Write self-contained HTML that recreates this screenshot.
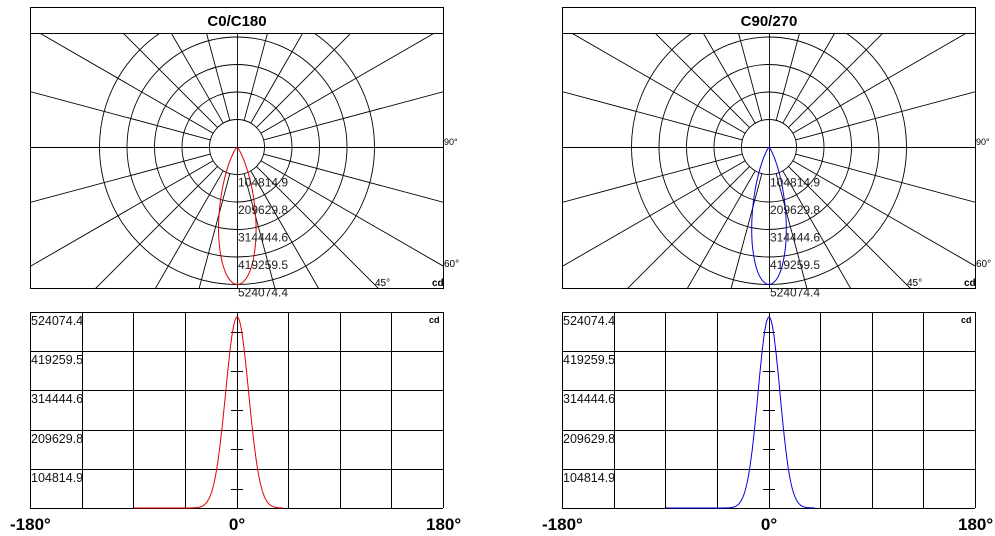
<!DOCTYPE html>
<html><head><meta charset="utf-8"><style>
html,body{margin:0;padding:0;background:#fff;width:995px;height:536px;overflow:hidden}
svg{display:block}
text{font-family:"Liberation Sans",Arial,sans-serif}
</style></head><body>
<svg id="s" width="995" height="536" xmlns="http://www.w3.org/2000/svg"></svg>
<script>
var s=document.getElementById('s'),out='';
function panel(ox,title,color,sig,sig2,skew){
  var cx=ox+207,cy=147,L=ox,R=ox+413,T=33,B=288;
  out+='<rect x="'+(L+.5)+'" y="7.5" width="413" height="'+(B-7)+'" fill="#fff" stroke="#000"/>';
  out+='<line x1="'+L+'" y1="33.5" x2="'+R+'" y2="33.5" stroke="#000"/>';
  out+='<text x="'+cx+'" y="26" font-size="15" font-weight="bold" text-anchor="middle">'+title+'</text>';
  out+='<defs><clipPath id="c'+ox+'"><rect x="'+L+'" y="'+T+'" width="413" height="'+(B-T)+'"/></clipPath></defs><g clip-path="url(#c'+ox+')" stroke="#000" fill="none" stroke-width="0.9">';
  for(var k=1;k<=5;k++)out+='<circle cx="'+cx+'" cy="'+cy+'" r="'+(27.5*k)+'"/>';
  for(var a=0;a<360;a+=15){
    if(a%90==0)continue;
    var r=a*Math.PI/180;
    out+='<line x1="'+(cx+27.5*Math.cos(r))+'" y1="'+(cy+27.5*Math.sin(r))+'" x2="'+(cx+600*Math.cos(r))+'" y2="'+(cy+600*Math.sin(r))+'"/>';
  }
  out+='<line x1="'+L+'" y1="'+(cy+.5)+'" x2="'+R+'" y2="'+(cy+.5)+'"/><line x1="'+(cx+.5)+'" y1="'+T+'" x2="'+(cx+.5)+'" y2="'+B+'"/></g>';
  var p='';
  for(var t=-40;t<=40;t+=1){
    var I=Math.exp(-t*t/(2*sig*sig))*(1+skew*t/40);
    if(I>1)I=1;
    var rr=I*137.5,rad=t*Math.PI/180;
    p+=(p?'L':'M')+(cx+rr*Math.sin(rad)).toFixed(1)+' '+(cy+rr*Math.cos(rad)).toFixed(1);
  }
  out+='<path d="'+p+'Z" fill="none" stroke="'+color+'" stroke-width="1"/>';
  var labs=['104814.9','209629.8','314444.6','419259.5','524074.4'];
  for(var k=0;k<5;k++)out+='<text x="'+(cx+1)+'" y="'+(cy+27.5*(k+1)+12)+'" font-size="12" fill="#222">'+labs[k]+'</text>';
  out+='<text x="'+(R+1)+'" y="145" font-size="9">90°</text><text x="'+(R+1)+'" y="267" font-size="10">60°</text><text x="'+(ox+345)+'" y="286" font-size="10">45°</text><text x="'+(R-11)+'" y="286" font-size="10" font-weight="bold">cd</text>';
  var bT=312,bB=508;
  out+='<g stroke="#000" stroke-width="1">';
  for(var i=0;i<=8;i++){var x=Math.round(L+i*413/8)+.5;out+='<line x1="'+x+'" y1="'+bT+'" x2="'+x+'" y2="'+bB+'"/>';}
  var hs=[312,351,390,430,469,508];
  hs.forEach(function(y){out+='<line x1="'+L+'" y1="'+(y+.5)+'" x2="'+R+'" y2="'+(y+.5)+'"/>';});
  [332,371,410,449,489].forEach(function(y){out+='<line x1="'+(cx-6)+'" y1="'+(y+.5)+'" x2="'+(cx+6)+'" y2="'+(y+.5)+'"/>';});
  out+='</g>';
  var rl=['524074.4','419259.5','314444.6','209629.8','104814.9'];
  for(var k=0;k<5;k++)out+='<text x="'+(L+1)+'" y="'+(hs[k]+13)+'" font-size="12.5" fill="#111">'+rl[k]+'</text>';
  out+='<text x="'+(R-14)+'" y="323" font-size="9" font-weight="bold">cd</text>';
  var q='M'+(ox+104)+' 508';
  for(var t=-60;t<=40;t+=0.5){
    var I=Math.exp(-t*t/(2*sig2*sig2))*(1+skew*t/40);if(I>1)I=1;
    var x=cx+t*413/360,y=508-I*(508-317);
    q+='L'+x.toFixed(1)+' '+y.toFixed(1);
  }
  out+='<path d="'+q+'" fill="none" stroke="'+color+'" stroke-width="1"/>';
  out+='<text x="'+(ox-20)+'" y="530" font-size="17" font-weight="bold">-180°</text>';
  out+='<text x="'+cx+'" y="530" font-size="17" font-weight="bold" text-anchor="middle">0°</text>';
  out+='<text x="'+(R-17)+'" y="530" font-size="17" font-weight="bold">180°</text>';
}
panel(30,'C0/C180','#e00000',13,10,0.05);
panel(562,'C90/270','#0000dd',12,9.5,0);
s.innerHTML=out;
</script>
</body></html>
